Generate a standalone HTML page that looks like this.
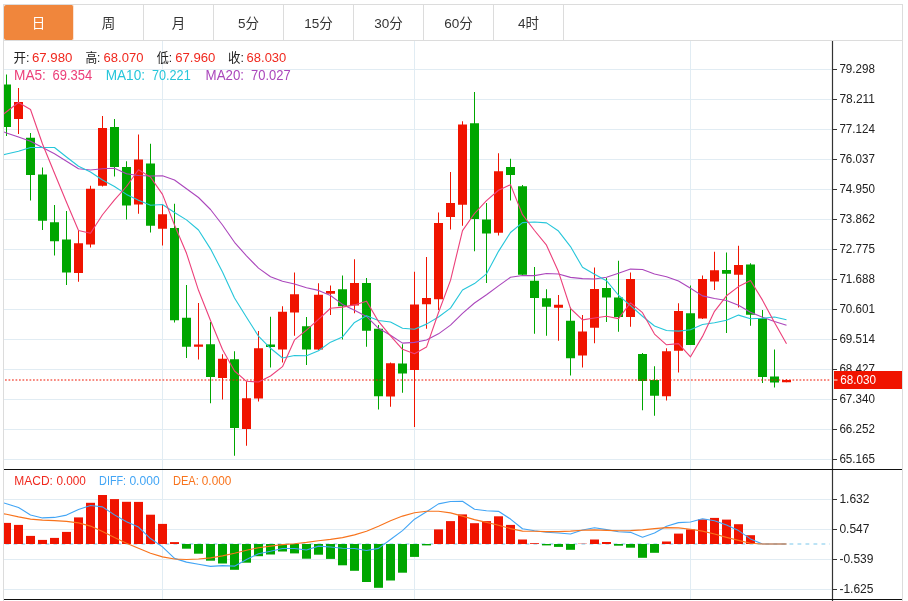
<!DOCTYPE html>
<html lang="zh-CN"><head><meta charset="utf-8"><title>K线图</title>
<style>
html,body{margin:0;padding:0;background:#fff;}
body{width:908px;height:601px;overflow:hidden;position:relative;font-family:"Liberation Sans","Noto Sans CJK SC",sans-serif;}
#box{position:absolute;left:3px;top:4px;width:898px;height:600px;border:1px solid #dcdcdc;border-bottom:none;}
#tabs{position:absolute;left:0;top:0;width:898px;height:35px;border-bottom:1px solid #dcdcdc;}
#tabs div{float:left;width:69px;height:35px;line-height:37px;border-right:1px solid #dcdcdc;text-align:center;font-size:13.5px;color:#333;}
#tabs div.on{background:#f0863c;color:#fff;border-right-color:#fbe3d3;border-radius:2px;}
svg{position:absolute;left:0;top:0;}
text{font-family:"Liberation Sans","Noto Sans CJK SC",sans-serif;}
</style></head><body>
<div id="box"><div id="tabs"><div class="on">日</div><div>周</div><div>月</div><div>5分</div><div>15分</div><div>30分</div><div>60分</div><div>4时</div></div></div>
<svg width="908" height="601" viewBox="0 0 908 601">
<defs><clipPath id="cp"><rect x="4" y="41" width="828" height="560"/></clipPath></defs>
<path d="M4 69.5H831.5M4 99.5H831.5M4 129.5H831.5M4 159.5H831.5M4 189.5H831.5M4 219.5H831.5M4 249.5H831.5M4 279.5H831.5M4 309.5H831.5M4 339.5H831.5M4 369.5H831.5M4 399.5H831.5M4 429.5H831.5M4 459.5H831.5M4 499.5H831.5M4 529.5H831.5M4 559.5H831.5M4 589.5H831.5M162.5 41V469M162.5 470V599M414.5 41V469M414.5 470V599M690.5 41V469M690.5 470V599" stroke="#e1ecf3" stroke-width="1" fill="none"/>
<g clip-path="url(#cp)">
<path d="M6.5 74.50V136.00" stroke="#00a600" stroke-width="1"/>
<rect x="2.0" y="84.50" width="9" height="42.50" fill="#00a600"/>
<path d="M18.5 88.00V134.00" stroke="#f01400" stroke-width="1"/>
<rect x="14.0" y="102.00" width="9" height="17.00" fill="#f01400"/>
<path d="M30.5 133.00V200.50" stroke="#00a600" stroke-width="1"/>
<rect x="26.0" y="137.75" width="9" height="37.25" fill="#00a600"/>
<path d="M42.5 167.50V230.00" stroke="#00a600" stroke-width="1"/>
<rect x="38.0" y="174.50" width="9" height="46.25" fill="#00a600"/>
<path d="M54.5 205.00V255.50" stroke="#00a600" stroke-width="1"/>
<rect x="50.0" y="222.25" width="9" height="19.00" fill="#00a600"/>
<path d="M66.5 211.00V285.00" stroke="#00a600" stroke-width="1"/>
<rect x="62.0" y="239.50" width="9" height="33.00" fill="#00a600"/>
<path d="M78.5 230.00V281.75" stroke="#f01400" stroke-width="1"/>
<rect x="74.0" y="243.25" width="9" height="29.75" fill="#f01400"/>
<path d="M90.5 185.75V247.50" stroke="#f01400" stroke-width="1"/>
<rect x="86.0" y="188.75" width="9" height="55.75" fill="#f01400"/>
<path d="M102.5 116.00V186.50" stroke="#f01400" stroke-width="1"/>
<rect x="98.0" y="128.00" width="9" height="57.75" fill="#f01400"/>
<path d="M114.5 119.00V176.50" stroke="#00a600" stroke-width="1"/>
<rect x="110.0" y="127.00" width="9" height="40.00" fill="#00a600"/>
<path d="M126.5 161.25V219.50" stroke="#00a600" stroke-width="1"/>
<rect x="122.0" y="167.00" width="9" height="38.50" fill="#00a600"/>
<path d="M138.5 134.50V213.75" stroke="#f01400" stroke-width="1"/>
<rect x="134.0" y="159.50" width="9" height="45.00" fill="#f01400"/>
<path d="M150.5 143.75V232.50" stroke="#00a600" stroke-width="1"/>
<rect x="146.0" y="163.50" width="9" height="62.25" fill="#00a600"/>
<path d="M162.5 204.50V245.50" stroke="#f01400" stroke-width="1"/>
<rect x="158.0" y="214.25" width="9" height="14.50" fill="#f01400"/>
<path d="M174.5 203.75V322.50" stroke="#00a600" stroke-width="1"/>
<rect x="170.0" y="228.00" width="9" height="92.25" fill="#00a600"/>
<path d="M186.5 285.00V358.00" stroke="#00a600" stroke-width="1"/>
<rect x="182.0" y="317.75" width="9" height="29.00" fill="#00a600"/>
<path d="M198.5 303.00V359.50" stroke="#f01400" stroke-width="1"/>
<rect x="194.0" y="344.50" width="9" height="2.25" fill="#f01400"/>
<path d="M210.5 322.00V403.25" stroke="#00a600" stroke-width="1"/>
<rect x="206.0" y="344.25" width="9" height="32.75" fill="#00a600"/>
<path d="M222.5 354.25V399.50" stroke="#f01400" stroke-width="1"/>
<rect x="218.0" y="358.75" width="9" height="19.25" fill="#f01400"/>
<path d="M234.5 351.25V455.75" stroke="#00a600" stroke-width="1"/>
<rect x="230.0" y="359.25" width="9" height="68.75" fill="#00a600"/>
<path d="M246.5 381.25V445.75" stroke="#f01400" stroke-width="1"/>
<rect x="242.0" y="398.25" width="9" height="30.75" fill="#f01400"/>
<path d="M258.5 331.00V401.50" stroke="#f01400" stroke-width="1"/>
<rect x="254.0" y="348.25" width="9" height="50.25" fill="#f01400"/>
<path d="M270.5 316.75V367.50" stroke="#00a600" stroke-width="1"/>
<rect x="266.0" y="344.50" width="9" height="2.50" fill="#00a600"/>
<path d="M282.5 306.25V362.50" stroke="#f01400" stroke-width="1"/>
<rect x="278.0" y="311.75" width="9" height="37.75" fill="#f01400"/>
<path d="M294.5 272.50V335.75" stroke="#f01400" stroke-width="1"/>
<rect x="290.0" y="294.25" width="9" height="18.25" fill="#f01400"/>
<path d="M306.5 317.00V365.00" stroke="#00a600" stroke-width="1"/>
<rect x="302.0" y="326.25" width="9" height="23.25" fill="#00a600"/>
<path d="M318.5 283.25V350.00" stroke="#f01400" stroke-width="1"/>
<rect x="314.0" y="294.75" width="9" height="54.75" fill="#f01400"/>
<path d="M330.5 285.50V315.00" stroke="#f01400" stroke-width="1"/>
<rect x="326.0" y="291.00" width="9" height="2.75" fill="#f01400"/>
<path d="M342.5 275.50V339.50" stroke="#00a600" stroke-width="1"/>
<rect x="338.0" y="289.25" width="9" height="17.00" fill="#00a600"/>
<path d="M354.5 259.25V313.25" stroke="#f01400" stroke-width="1"/>
<rect x="350.0" y="283.00" width="9" height="22.50" fill="#f01400"/>
<path d="M366.5 278.00V346.75" stroke="#00a600" stroke-width="1"/>
<rect x="362.0" y="283.00" width="9" height="47.75" fill="#00a600"/>
<path d="M378.5 325.00V409.50" stroke="#00a600" stroke-width="1"/>
<rect x="374.0" y="328.75" width="9" height="67.50" fill="#00a600"/>
<path d="M390.5 362.50V406.75" stroke="#f01400" stroke-width="1"/>
<rect x="386.0" y="363.25" width="9" height="33.25" fill="#f01400"/>
<path d="M402.5 344.25V392.75" stroke="#00a600" stroke-width="1"/>
<rect x="398.0" y="363.50" width="9" height="10.00" fill="#00a600"/>
<path d="M414.5 271.75V427.00" stroke="#f01400" stroke-width="1"/>
<rect x="410.0" y="304.50" width="9" height="65.50" fill="#f01400"/>
<path d="M426.5 257.00V328.75" stroke="#f01400" stroke-width="1"/>
<rect x="422.0" y="298.00" width="9" height="6.25" fill="#f01400"/>
<path d="M438.5 212.50V310.00" stroke="#f01400" stroke-width="1"/>
<rect x="434.0" y="223.00" width="9" height="76.25" fill="#f01400"/>
<path d="M450.5 172.00V229.50" stroke="#f01400" stroke-width="1"/>
<rect x="446.0" y="203.00" width="9" height="14.00" fill="#f01400"/>
<path d="M462.5 121.25V225.75" stroke="#f01400" stroke-width="1"/>
<rect x="458.0" y="124.50" width="9" height="80.25" fill="#f01400"/>
<path d="M474.5 92.00V251.25" stroke="#00a600" stroke-width="1"/>
<rect x="470.0" y="123.25" width="9" height="95.75" fill="#00a600"/>
<path d="M486.5 203.00V283.00" stroke="#00a600" stroke-width="1"/>
<rect x="482.0" y="219.50" width="9" height="14.00" fill="#00a600"/>
<path d="M498.5 153.25V235.50" stroke="#f01400" stroke-width="1"/>
<rect x="494.0" y="171.25" width="9" height="61.50" fill="#f01400"/>
<path d="M510.5 158.75V200.50" stroke="#00a600" stroke-width="1"/>
<rect x="506.0" y="167.00" width="9" height="8.00" fill="#00a600"/>
<path d="M522.5 185.00V275.00" stroke="#00a600" stroke-width="1"/>
<rect x="518.0" y="186.25" width="9" height="88.50" fill="#00a600"/>
<path d="M534.5 267.00V333.75" stroke="#00a600" stroke-width="1"/>
<rect x="530.0" y="280.75" width="9" height="17.25" fill="#00a600"/>
<path d="M546.5 289.25V335.75" stroke="#00a600" stroke-width="1"/>
<rect x="542.0" y="298.25" width="9" height="8.50" fill="#00a600"/>
<path d="M558.5 295.00V340.75" stroke="#f01400" stroke-width="1"/>
<rect x="554.0" y="304.75" width="9" height="3.00" fill="#f01400"/>
<path d="M570.5 307.50V375.50" stroke="#00a600" stroke-width="1"/>
<rect x="566.0" y="320.75" width="9" height="37.50" fill="#00a600"/>
<path d="M582.5 315.00V367.50" stroke="#f01400" stroke-width="1"/>
<rect x="578.0" y="331.50" width="9" height="24.00" fill="#f01400"/>
<path d="M594.5 267.50V343.25" stroke="#f01400" stroke-width="1"/>
<rect x="590.0" y="289.00" width="9" height="38.75" fill="#f01400"/>
<path d="M606.5 278.00V322.00" stroke="#00a600" stroke-width="1"/>
<rect x="602.0" y="288.00" width="9" height="9.50" fill="#00a600"/>
<path d="M618.5 260.75V331.75" stroke="#00a600" stroke-width="1"/>
<rect x="614.0" y="297.50" width="9" height="19.50" fill="#00a600"/>
<path d="M630.5 272.50V326.75" stroke="#f01400" stroke-width="1"/>
<rect x="626.0" y="279.00" width="9" height="38.00" fill="#f01400"/>
<path d="M642.5 353.00V410.25" stroke="#00a600" stroke-width="1"/>
<rect x="638.0" y="354.00" width="9" height="27.00" fill="#00a600"/>
<path d="M654.5 366.25V415.75" stroke="#00a600" stroke-width="1"/>
<rect x="650.0" y="380.00" width="9" height="15.75" fill="#00a600"/>
<path d="M666.5 348.25V400.50" stroke="#f01400" stroke-width="1"/>
<rect x="662.0" y="351.25" width="9" height="45.00" fill="#f01400"/>
<path d="M678.5 303.25V372.50" stroke="#f01400" stroke-width="1"/>
<rect x="674.0" y="311.00" width="9" height="39.75" fill="#f01400"/>
<path d="M690.5 285.50V345.00" stroke="#00a600" stroke-width="1"/>
<rect x="686.0" y="313.25" width="9" height="31.75" fill="#00a600"/>
<path d="M702.5 275.50V319.00" stroke="#f01400" stroke-width="1"/>
<rect x="698.0" y="279.00" width="9" height="39.50" fill="#f01400"/>
<path d="M714.5 251.75V290.00" stroke="#f01400" stroke-width="1"/>
<rect x="710.0" y="270.25" width="9" height="11.25" fill="#f01400"/>
<path d="M726.5 252.50V333.00" stroke="#00a600" stroke-width="1"/>
<rect x="722.0" y="270.00" width="9" height="3.75" fill="#00a600"/>
<path d="M738.5 245.75V307.50" stroke="#f01400" stroke-width="1"/>
<rect x="734.0" y="265.00" width="9" height="9.75" fill="#f01400"/>
<path d="M750.5 263.25V325.75" stroke="#00a600" stroke-width="1"/>
<rect x="746.0" y="264.50" width="9" height="50.25" fill="#00a600"/>
<path d="M762.5 310.00V383.00" stroke="#00a600" stroke-width="1"/>
<rect x="758.0" y="318.25" width="9" height="58.75" fill="#00a600"/>
<path d="M774.5 349.50V387.50" stroke="#00a600" stroke-width="1"/>
<rect x="770.0" y="376.50" width="9" height="6.00" fill="#00a600"/>
<path d="M786.5 379.25V382.25" stroke="#f01400" stroke-width="1"/>
<rect x="782.0" y="380.00" width="9" height="2.25" fill="#f01400"/>
<path d="M5 380H830" stroke="#f01400" stroke-width="1" stroke-dasharray="1.75 1.75"/>
<polyline points="-5.50,128.50 6.50,132.90 18.50,137.00 30.50,141.25 42.50,147.50 54.50,153.75 66.50,161.25 78.50,168.75 90.50,170.00 102.50,168.75 114.50,168.25 126.50,173.75 138.50,175.50 150.50,176.00 162.50,175.75 174.50,180.00 186.50,188.75 198.50,197.50 210.50,209.50 222.50,225.00 234.50,242.29 246.50,255.85 258.50,268.16 270.50,276.76 282.50,281.31 294.50,283.96 306.50,287.81 318.50,290.39 330.50,295.50 342.50,304.41 354.50,310.21 366.50,316.48 378.50,328.31 390.50,335.19 402.50,343.15 414.50,342.36 426.50,339.93 438.50,333.85 450.50,325.15 462.50,313.44 474.50,302.99 486.50,294.75 498.50,285.90 510.50,277.30 522.50,275.45 534.50,275.64 546.50,273.50 558.50,274.00 570.50,277.36 582.50,278.62 594.50,278.93 606.50,277.26 618.50,273.30 630.50,269.09 642.50,269.46 654.50,274.02 666.50,276.69 678.50,281.09 690.50,288.19 702.50,295.91 714.50,298.48 726.50,300.49 738.50,305.18 750.50,312.16 762.50,317.27 774.50,321.50 786.50,325.16" fill="none" stroke="#ab47bc" stroke-width="1.1" stroke-linejoin="round"/>
<polyline points="-5.50,156.70 6.50,154.00 18.50,151.25 30.50,147.50 42.50,147.50 54.50,147.50 66.50,157.00 78.50,166.25 90.50,172.00 102.50,180.00 114.50,186.55 126.50,194.40 138.50,200.15 150.50,205.22 162.50,204.57 174.50,212.47 186.50,219.90 198.50,230.03 210.50,248.85 222.50,271.93 234.50,298.02 246.50,317.30 258.50,336.18 270.50,348.30 282.50,358.05 294.50,355.45 306.50,355.73 318.50,350.75 330.50,342.15 342.50,336.90 354.50,322.40 366.50,315.65 378.50,320.45 390.50,322.07 402.50,328.25 414.50,329.27 426.50,324.12 438.50,316.95 450.50,308.15 462.50,289.98 474.50,283.57 486.50,273.85 498.50,251.35 510.50,232.53 522.50,222.65 534.50,222.00 546.50,222.88 558.50,231.05 570.50,246.57 582.50,267.27 594.50,274.27 606.50,280.68 618.50,295.25 630.50,305.65 642.50,316.27 654.50,326.05 666.50,330.50 678.50,331.12 690.50,329.80 702.50,324.55 714.50,322.68 726.50,320.30 738.50,315.10 750.50,318.68 762.50,318.27 774.50,316.95 786.50,319.82" fill="none" stroke="#26c6da" stroke-width="1.1" stroke-linejoin="round"/>
<polyline points="-5.50,121.10 6.50,111.80 18.50,102.50 30.50,109.50 42.50,144.00 54.50,173.20 66.50,202.30 78.50,230.55 90.50,233.30 102.50,214.75 114.50,199.90 126.50,186.50 138.50,169.75 150.50,177.15 162.50,194.40 174.50,225.05 186.50,253.30 198.50,290.30 210.50,320.55 222.50,349.45 234.50,371.00 246.50,381.30 258.50,382.05 270.50,376.05 282.50,366.65 294.50,339.90 306.50,330.15 318.50,319.45 330.50,308.25 342.50,307.15 354.50,304.90 366.50,301.15 378.50,321.45 390.50,335.90 402.50,349.35 414.50,353.65 426.50,347.10 438.50,312.45 450.50,280.40 462.50,230.60 474.50,213.50 486.50,200.60 498.50,190.25 510.50,184.65 522.50,214.70 534.50,230.50 546.50,245.15 558.50,271.85 570.50,308.50 582.50,319.85 594.50,318.05 606.50,316.20 618.50,318.65 630.50,302.80 642.50,312.70 654.50,334.05 666.50,344.80 678.50,343.60 690.50,356.80 702.50,336.40 714.50,311.30 726.50,295.80 738.50,286.60 750.50,280.55 762.50,300.15 774.50,322.60 786.50,343.85" fill="none" stroke="#ec407a" stroke-width="1.1" stroke-linejoin="round"/>
<path d="M-2.5 544H830" stroke="#a6daf2" stroke-width="1.4" stroke-dasharray="3.8 4.2"/>
<rect x="2.0" y="522.90" width="9" height="21.10" fill="#f01400"/>
<rect x="14.0" y="524.90" width="9" height="19.10" fill="#f01400"/>
<rect x="26.0" y="535.90" width="9" height="8.10" fill="#f01400"/>
<rect x="38.0" y="539.90" width="9" height="4.10" fill="#f01400"/>
<rect x="50.0" y="537.90" width="9" height="6.10" fill="#f01400"/>
<rect x="62.0" y="531.90" width="9" height="12.10" fill="#f01400"/>
<rect x="74.0" y="517.40" width="9" height="26.60" fill="#f01400"/>
<rect x="86.0" y="502.80" width="9" height="41.20" fill="#f01400"/>
<rect x="98.0" y="495.00" width="9" height="49.00" fill="#f01400"/>
<rect x="110.0" y="499.10" width="9" height="44.90" fill="#f01400"/>
<rect x="122.0" y="501.80" width="9" height="42.20" fill="#f01400"/>
<rect x="134.0" y="501.90" width="9" height="42.10" fill="#f01400"/>
<rect x="146.0" y="514.70" width="9" height="29.30" fill="#f01400"/>
<rect x="158.0" y="523.90" width="9" height="20.10" fill="#f01400"/>
<rect x="170.0" y="542.10" width="9" height="1.90" fill="#f01400"/>
<rect x="182.0" y="544.00" width="9" height="4.70" fill="#00a600"/>
<rect x="194.0" y="544.00" width="9" height="9.70" fill="#00a600"/>
<rect x="206.0" y="544.00" width="9" height="16.70" fill="#00a600"/>
<rect x="218.0" y="544.00" width="9" height="19.50" fill="#00a600"/>
<rect x="230.0" y="544.00" width="9" height="25.80" fill="#00a600"/>
<rect x="242.0" y="544.00" width="9" height="18.70" fill="#00a600"/>
<rect x="254.0" y="544.00" width="9" height="12.20" fill="#00a600"/>
<rect x="266.0" y="544.00" width="9" height="10.50" fill="#00a600"/>
<rect x="278.0" y="544.00" width="9" height="7.50" fill="#00a600"/>
<rect x="290.0" y="544.00" width="9" height="9.40" fill="#00a600"/>
<rect x="302.0" y="544.00" width="9" height="14.70" fill="#00a600"/>
<rect x="314.0" y="544.00" width="9" height="10.70" fill="#00a600"/>
<rect x="326.0" y="544.00" width="9" height="14.90" fill="#00a600"/>
<rect x="338.0" y="544.00" width="9" height="21.30" fill="#00a600"/>
<rect x="350.0" y="544.00" width="9" height="26.80" fill="#00a600"/>
<rect x="362.0" y="544.00" width="9" height="38.00" fill="#00a600"/>
<rect x="374.0" y="544.00" width="9" height="43.80" fill="#00a600"/>
<rect x="386.0" y="544.00" width="9" height="36.50" fill="#00a600"/>
<rect x="398.0" y="544.00" width="9" height="28.70" fill="#00a600"/>
<rect x="410.0" y="544.00" width="9" height="12.90" fill="#00a600"/>
<rect x="422.0" y="544.00" width="9" height="1.40" fill="#00a600"/>
<rect x="434.0" y="529.40" width="9" height="14.60" fill="#f01400"/>
<rect x="446.0" y="521.10" width="9" height="22.90" fill="#f01400"/>
<rect x="458.0" y="514.40" width="9" height="29.60" fill="#f01400"/>
<rect x="470.0" y="523.20" width="9" height="20.80" fill="#f01400"/>
<rect x="482.0" y="521.10" width="9" height="22.90" fill="#f01400"/>
<rect x="494.0" y="516.30" width="9" height="27.70" fill="#f01400"/>
<rect x="506.0" y="524.90" width="9" height="19.10" fill="#f01400"/>
<rect x="518.0" y="539.50" width="9" height="4.50" fill="#f01400"/>
<rect x="530.0" y="543.20" width="9" height="0.80" fill="#f01400"/>
<rect x="542.0" y="544.00" width="9" height="1.40" fill="#00a600"/>
<rect x="554.0" y="544.00" width="9" height="2.90" fill="#00a600"/>
<rect x="566.0" y="544.00" width="9" height="5.80" fill="#00a600"/>
<rect x="578.0" y="543.70" width="9" height="0.30" fill="#f01400"/>
<rect x="590.0" y="539.50" width="9" height="4.50" fill="#f01400"/>
<rect x="602.0" y="542.00" width="9" height="2.00" fill="#f01400"/>
<rect x="614.0" y="544.00" width="9" height="1.70" fill="#00a600"/>
<rect x="626.0" y="544.00" width="9" height="3.70" fill="#00a600"/>
<rect x="638.0" y="544.00" width="9" height="13.80" fill="#00a600"/>
<rect x="650.0" y="544.00" width="9" height="8.80" fill="#00a600"/>
<rect x="662.0" y="541.50" width="9" height="2.50" fill="#f01400"/>
<rect x="674.0" y="533.60" width="9" height="10.40" fill="#f01400"/>
<rect x="686.0" y="529.40" width="9" height="14.60" fill="#f01400"/>
<rect x="698.0" y="519.40" width="9" height="24.60" fill="#f01400"/>
<rect x="710.0" y="517.90" width="9" height="26.10" fill="#f01400"/>
<rect x="722.0" y="519.60" width="9" height="24.40" fill="#f01400"/>
<rect x="734.0" y="524.20" width="9" height="19.80" fill="#f01400"/>
<rect x="746.0" y="535.20" width="9" height="8.80" fill="#f01400"/>
<polyline points="-5.50,500.50 6.50,503.67 18.50,507.42 30.50,514.97 42.50,517.92 54.50,517.42 66.50,515.12 78.50,509.50 90.50,505.50 102.50,506.85 114.50,514.88 126.50,521.85 138.50,527.03 150.50,538.53 162.50,546.88 174.50,558.38 186.50,562.12 198.50,564.17 210.50,566.38 222.50,565.67 234.50,566.15 246.50,559.53 258.50,553.75 270.50,551.28 282.50,548.53 294.50,548.55 306.50,549.98 318.50,546.12 330.50,547.02 342.50,548.23 354.50,548.45 366.50,550.50 378.50,548.40 390.50,539.47 402.50,530.62 414.50,519.17 426.50,511.80 438.50,503.90 450.50,501.48 462.50,501.30 474.50,509.30 486.50,510.77 498.50,511.33 510.50,519.08 522.50,528.78 534.50,530.75 546.50,532.20 558.50,532.97 570.50,534.00 582.50,529.98 594.50,527.77 606.50,529.65 618.50,531.73 630.50,532.33 642.50,537.15 654.50,533.10 666.50,526.28 678.50,522.65 690.50,522.05 702.50,518.70 714.50,520.83 726.50,525.05 738.50,530.60 750.50,538.90 762.50,544.00 774.50,544.00 786.50,544.00" fill="none" stroke="#42a5f5" stroke-width="1.1" stroke-linejoin="round"/>
<polyline points="-5.50,512.50 6.50,514.30 18.50,516.90 30.50,519.10 42.50,520.10 54.50,520.60 66.50,521.40 78.50,522.90 90.50,526.10 102.50,531.60 114.50,537.60 126.50,543.20 138.50,548.20 150.50,553.20 162.50,556.90 174.50,559.00 186.50,559.50 198.50,559.00 210.50,557.90 222.50,555.90 234.50,553.20 246.50,550.20 258.50,547.70 270.50,546.10 282.50,544.60 294.50,543.70 306.50,542.40 318.50,540.70 330.50,539.40 342.50,537.60 354.50,534.90 366.50,531.30 378.50,526.30 390.50,520.80 402.50,516.10 414.50,512.80 426.50,511.30 438.50,511.30 450.50,512.90 462.50,516.10 474.50,519.60 486.50,522.40 498.50,525.20 510.50,528.60 522.50,531.10 534.50,531.20 546.50,531.60 558.50,531.60 570.50,531.10 582.50,530.20 594.50,529.90 606.50,530.40 618.50,530.70 630.50,530.60 642.50,529.90 654.50,528.60 666.50,527.60 678.50,527.90 690.50,529.20 702.50,531.10 714.50,534.00 726.50,537.40 738.50,540.40 750.50,543.20 762.50,544.00 774.50,544.00 786.50,544.00" fill="none" stroke="#f8731c" stroke-width="1.1" stroke-linejoin="round"/>
</g>
<path d="M832.5 41V601" stroke="#333" stroke-width="1.2"/>
<path d="M4 469.5H902M4 599.5H902" stroke="#111" stroke-width="1.2"/>
<path d="M833 69.5H837M833 99.5H837M833 129.5H837M833 159.5H837M833 189.5H837M833 219.5H837M833 249.5H837M833 279.5H837M833 309.5H837M833 339.5H837M833 369.5H837M833 399.5H837M833 429.5H837M833 459.5H837M833 499.5H837M833 529.5H837M833 559.5H837M833 589.5H837" stroke="#333" stroke-width="1"/>
<text x="839.4" y="72.8" font-size="12" fill="#222" textLength="35.6" lengthAdjust="spacingAndGlyphs">79.298</text>
<text x="839.4" y="102.8" font-size="12" fill="#222" textLength="35.6" lengthAdjust="spacingAndGlyphs">78.211</text>
<text x="839.4" y="132.8" font-size="12" fill="#222" textLength="35.6" lengthAdjust="spacingAndGlyphs">77.124</text>
<text x="839.4" y="162.8" font-size="12" fill="#222" textLength="35.6" lengthAdjust="spacingAndGlyphs">76.037</text>
<text x="839.4" y="192.8" font-size="12" fill="#222" textLength="35.6" lengthAdjust="spacingAndGlyphs">74.950</text>
<text x="839.4" y="222.8" font-size="12" fill="#222" textLength="35.6" lengthAdjust="spacingAndGlyphs">73.862</text>
<text x="839.4" y="252.8" font-size="12" fill="#222" textLength="35.6" lengthAdjust="spacingAndGlyphs">72.775</text>
<text x="839.4" y="282.8" font-size="12" fill="#222" textLength="35.6" lengthAdjust="spacingAndGlyphs">71.688</text>
<text x="839.4" y="312.8" font-size="12" fill="#222" textLength="35.6" lengthAdjust="spacingAndGlyphs">70.601</text>
<text x="839.4" y="342.8" font-size="12" fill="#222" textLength="35.6" lengthAdjust="spacingAndGlyphs">69.514</text>
<text x="839.4" y="372.8" font-size="12" fill="#222" textLength="35.6" lengthAdjust="spacingAndGlyphs">68.427</text>
<text x="839.4" y="402.8" font-size="12" fill="#222" textLength="35.6" lengthAdjust="spacingAndGlyphs">67.340</text>
<text x="839.4" y="432.8" font-size="12" fill="#222" textLength="35.6" lengthAdjust="spacingAndGlyphs">66.252</text>
<text x="839.4" y="462.8" font-size="12" fill="#222" textLength="35.6" lengthAdjust="spacingAndGlyphs">65.165</text>
<text x="839.4" y="502.8" font-size="12" fill="#222">1.632</text>
<text x="839.4" y="532.8" font-size="12" fill="#222">0.547</text>
<text x="839.4" y="562.8" font-size="12" fill="#222">-0.539</text>
<text x="839.4" y="592.8" font-size="12" fill="#222">-1.625</text>
<rect x="834" y="371" width="68" height="18" fill="#f01400"/>
<path d="M834 380H837.5" stroke="#fff" stroke-width="1"/>
<text x="840.3" y="384.4" font-size="12" fill="#fff" textLength="35.8" lengthAdjust="spacingAndGlyphs">68.030</text>
<text x="13.5" y="61.8" font-size="13" fill="#222" textLength="16.0" lengthAdjust="spacingAndGlyphs">开:</text>
<text x="31.9" y="61.8" font-size="13" fill="#f0281e" textLength="40.5" lengthAdjust="spacingAndGlyphs">67.980</text>
<text x="85.4" y="61.8" font-size="13" fill="#222" textLength="15.0" lengthAdjust="spacingAndGlyphs">高:</text>
<text x="103.6" y="61.8" font-size="13" fill="#f0281e" textLength="39.8" lengthAdjust="spacingAndGlyphs">68.070</text>
<text x="156.7" y="61.8" font-size="13" fill="#222" textLength="15.4" lengthAdjust="spacingAndGlyphs">低:</text>
<text x="175.2" y="61.8" font-size="13" fill="#f0281e" textLength="40.2" lengthAdjust="spacingAndGlyphs">67.960</text>
<text x="228.1" y="61.8" font-size="13" fill="#222" textLength="15.9" lengthAdjust="spacingAndGlyphs">收:</text>
<text x="246.6" y="61.8" font-size="13" fill="#f0281e" textLength="39.7" lengthAdjust="spacingAndGlyphs">68.030</text>
<text x="14.0" y="80.1" font-size="14" fill="#ec407a" textLength="31.9" lengthAdjust="spacingAndGlyphs">MA5:</text>
<text x="52.5" y="80.1" font-size="14" fill="#ec407a" textLength="39.7" lengthAdjust="spacingAndGlyphs">69.354</text>
<text x="105.7" y="80.1" font-size="14" fill="#26c6da" textLength="39.3" lengthAdjust="spacingAndGlyphs">MA10:</text>
<text x="152.0" y="80.1" font-size="14" fill="#26c6da" textLength="38.7" lengthAdjust="spacingAndGlyphs">70.221</text>
<text x="205.6" y="80.1" font-size="14" fill="#ab47bc" textLength="38.4" lengthAdjust="spacingAndGlyphs">MA20:</text>
<text x="251.0" y="80.1" font-size="14" fill="#ab47bc" textLength="39.7" lengthAdjust="spacingAndGlyphs">70.027</text>
<text x="14.3" y="484.7" font-size="12" fill="#f0281e" textLength="38.6" lengthAdjust="spacingAndGlyphs">MACD:</text>
<text x="56.4" y="484.7" font-size="12" fill="#f0281e" textLength="29.5" lengthAdjust="spacingAndGlyphs">0.000</text>
<text x="99.1" y="484.7" font-size="12" fill="#42a5f5" textLength="27.0" lengthAdjust="spacingAndGlyphs">DIFF:</text>
<text x="129.4" y="484.7" font-size="12" fill="#42a5f5" textLength="30.3" lengthAdjust="spacingAndGlyphs">0.000</text>
<text x="172.9" y="484.7" font-size="12" fill="#f8731c" textLength="25.9" lengthAdjust="spacingAndGlyphs">DEA:</text>
<text x="201.8" y="484.7" font-size="12" fill="#f8731c" textLength="29.5" lengthAdjust="spacingAndGlyphs">0.000</text>
</svg></body></html>
